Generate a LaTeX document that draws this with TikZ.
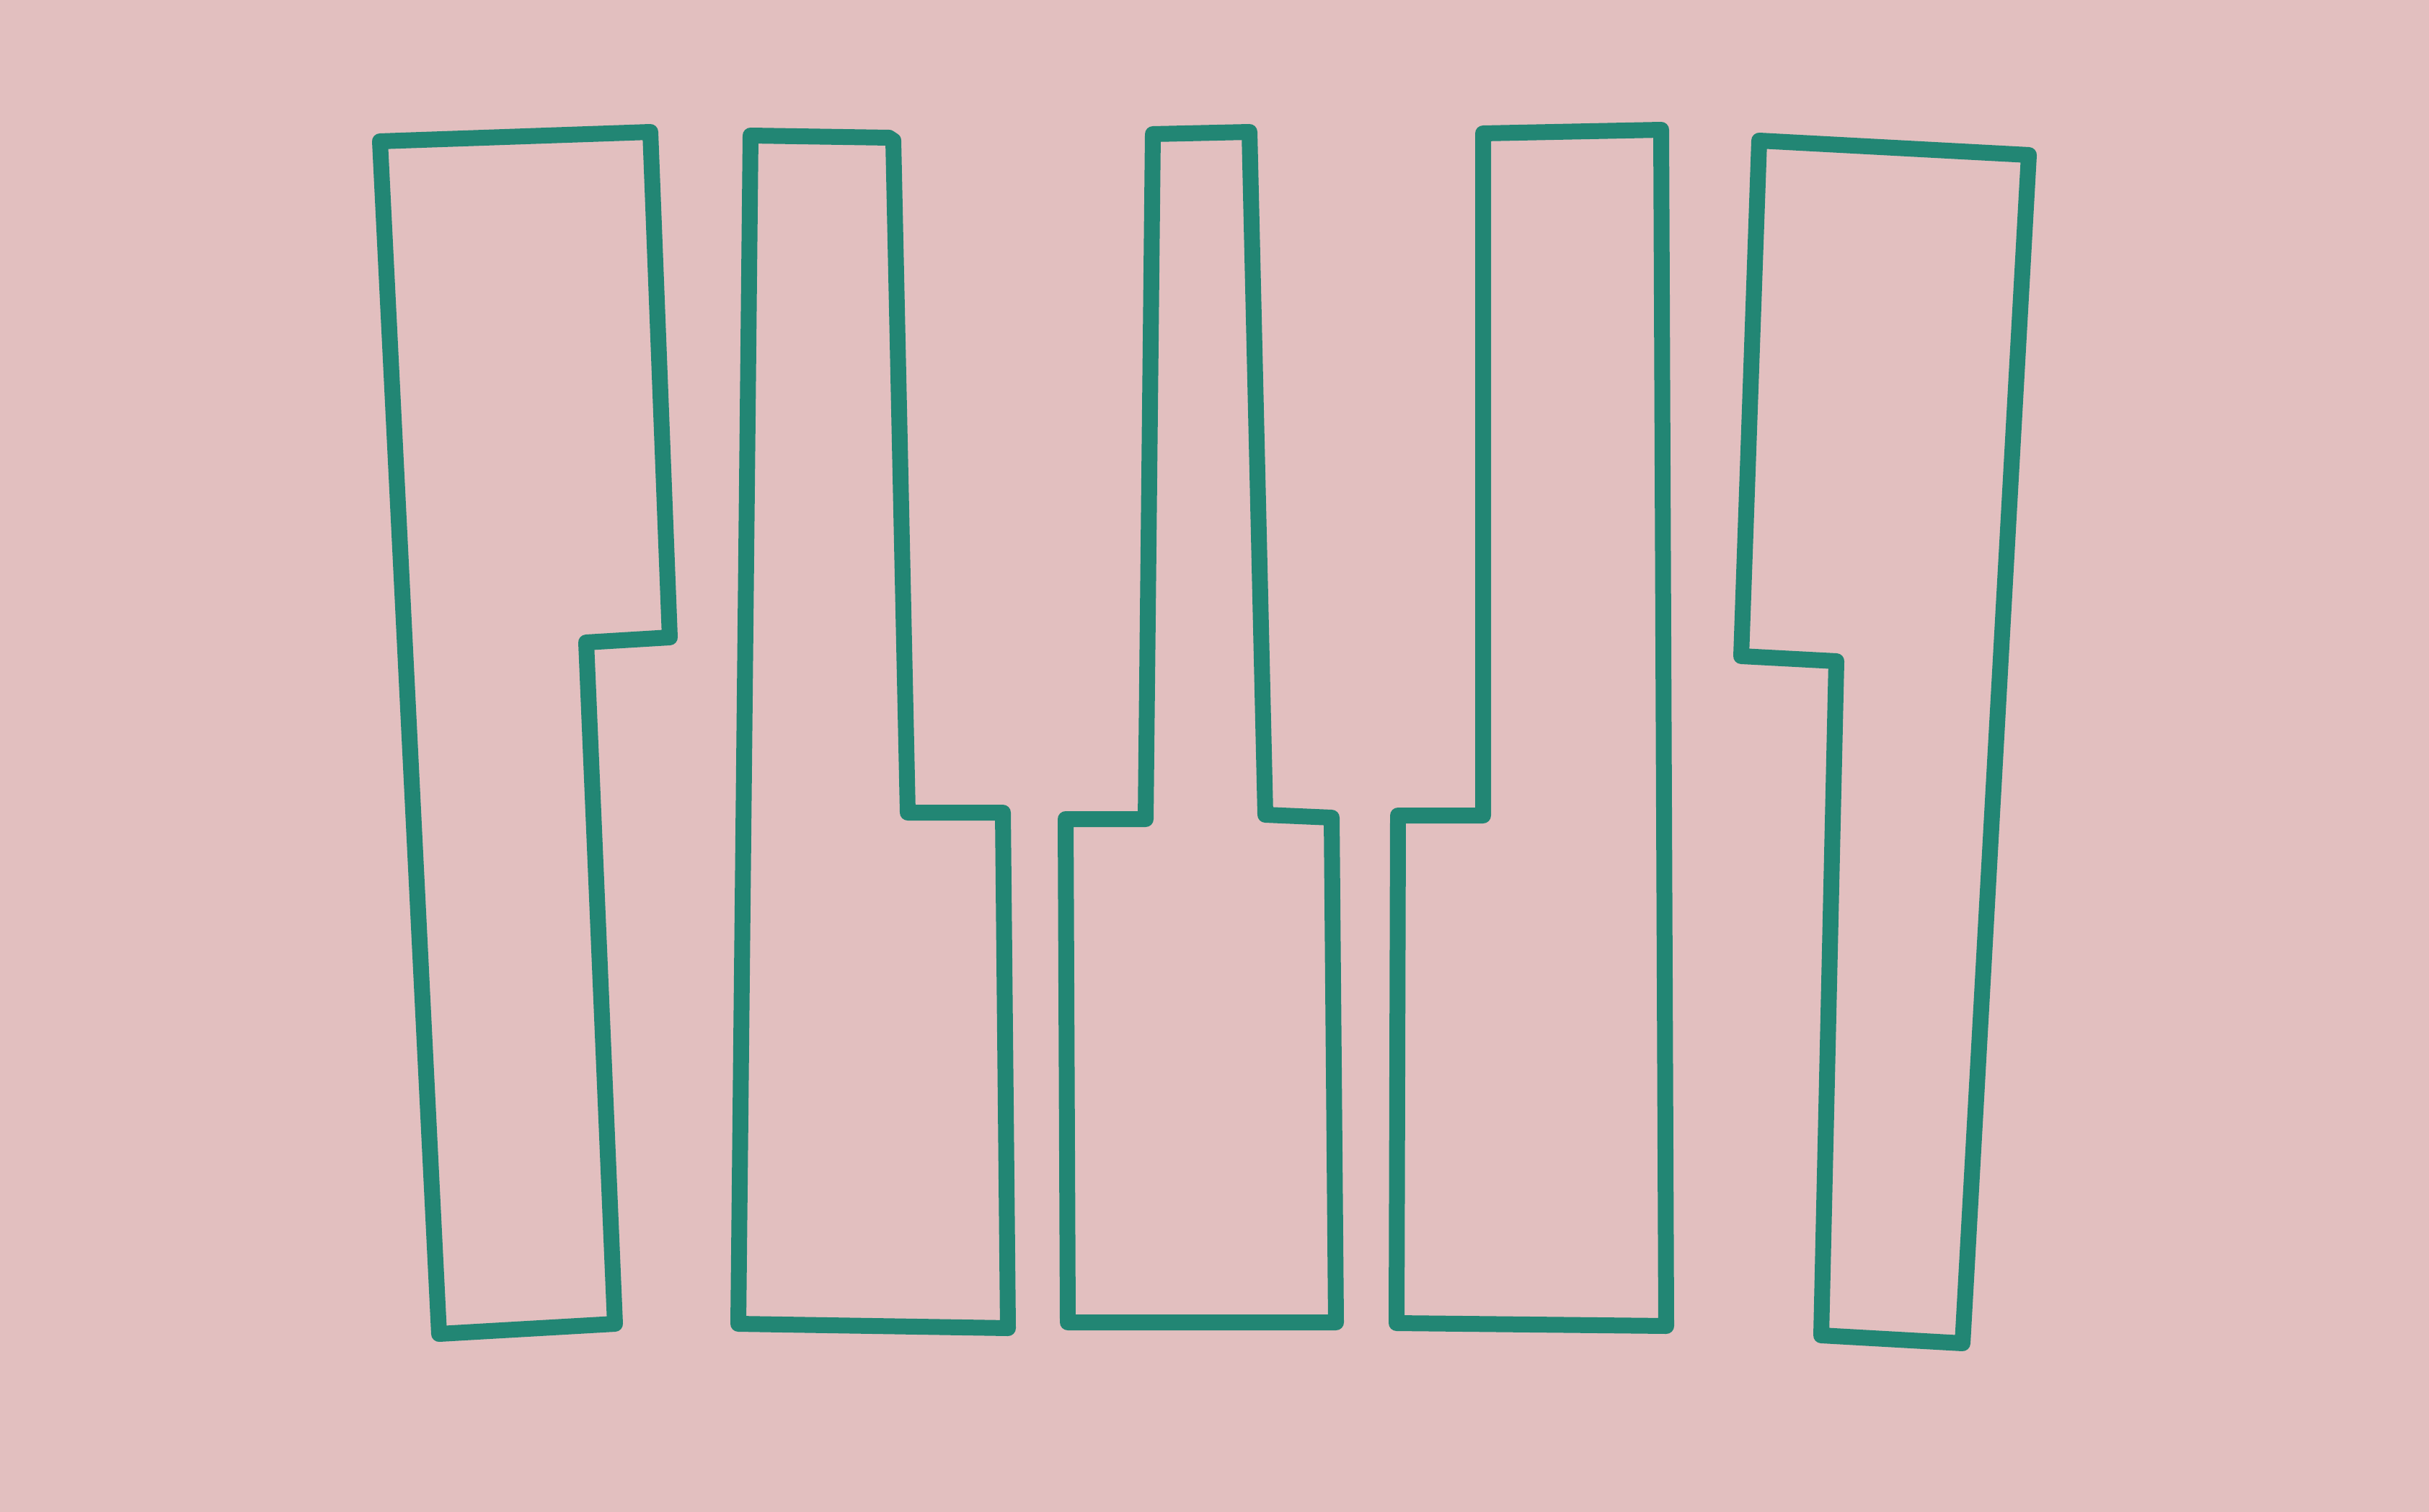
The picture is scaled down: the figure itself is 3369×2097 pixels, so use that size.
\documentclass[tikz,border=0pt]{standalone}
\usepackage{tikz}
\definecolor{keybg}{RGB}{226,191,191}
\definecolor{keyline}{RGB}{34,134,116}

\begin{document}
\begin{tikzpicture}[x=0.1mm,y=-0.1mm,
    pianokey/.style={draw=keyline,line width=2.2mm,line join=round}]
    \fill[keybg] (0,0) rectangle (3369,2097); %背景
    \useasboundingbox (0,0) rectangle (3369,2097);
    \draw[pianokey] (527,196)--(902,183)--(929,884)--(813,891)--(853,1836)--(609,1850)--cycle; %1
    \draw[pianokey] (1041,188)--(1233,191)--(1239,195)--(1259,1127)--(1391,1127)--(1398,1842)--(1024,1836)--cycle; %2
    \draw[pianokey] (1599,186)--(1733,183)--(1755,1130)--(1847,1134)--(1853,1834)--(1481,1834)--(1478,1136)--(1589,1136)--cycle; %3
    \draw[pianokey] (2057,185)--(2304,180)--(2311,1839)--(1937,1835)--(1939,1131)--(2057,1131)--cycle; %4
    \draw[pianokey] (2440,195)--(2814,215)--(2722,1863)--(2526,1852)--(2547,917)--(2415,910)--cycle; %5
\end{tikzpicture}
\end{document}
